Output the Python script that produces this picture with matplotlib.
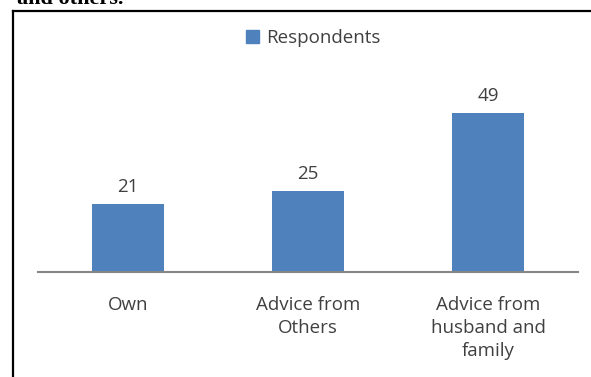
import matplotlib.pyplot as plt
from matplotlib.lines import Line2D
from matplotlib.patches import Patch

categories = ["Own", "Advice from\nOthers", "Advice from\nhusband and\nfamily"]
respondents = [21, 25, 49]

BAR_COLOR = "#4f81bd"
TEXT_COLOR = "#404040"
FONT = ["Open Sans", "DejaVu Sans"]
FS = 13.5

fig = plt.figure(figsize=(5.91, 3.77), dpi=100)
ax = fig.add_axes([0.0643, 0.2785, 0.9137, 0.5157])

x = range(len(categories))
bars = ax.bar(x, respondents, width=0.4, color=BAR_COLOR, label="Respondents", zorder=2)
for b, v in zip(bars, respondents):
    ax.annotate(str(v), (b.get_x() + b.get_width() / 2, v), xytext=(0, 6),
                textcoords="offset points", ha="center", va="bottom",
                fontsize=FS, color=TEXT_COLOR, family=FONT)

ax.set_xlim(-0.5, 2.5)
ax.set_ylim(0, 60)
ax.set_xticks(list(x))
ax.set_xticklabels(categories, fontsize=FS, color=TEXT_COLOR, family=FONT,
                   linespacing=1.38)
ax.tick_params(axis="x", length=0, pad=17)
ax.set_yticks([])
for side in ("top", "right", "left"):
    ax.spines[side].set_visible(False)
ax.spines["bottom"].set_color("#868686")
ax.spines["bottom"].set_linewidth(1.5)

fig.legend(handles=[Patch(color=BAR_COLOR, label="Respondents")],
           loc="center", bbox_to_anchor=(0.530, 0.900), frameon=False,
           prop={"family": FONT, "size": FS}, handlelength=0.7, handleheight=0.7,
           handletextpad=0.4, labelcolor=TEXT_COLOR)

# frame of the pasted picture
fig.add_artist(Line2D([0.022, 0.022], [0.0, 0.971], color="black", lw=1.6,
                      transform=fig.transFigure))
fig.add_artist(Line2D([0.022, 1.0], [0.971, 0.971], color="black", lw=1.6,
                      transform=fig.transFigure))
# caption of the page, cut off by the top edge as in the scan
fig.text(0.029, 0.990, "and others.", family=["Liberation Serif"], fontsize=16,
         fontweight="bold", va="baseline", ha="left", color="black")

fig.savefig("out.png", dpi=100)
